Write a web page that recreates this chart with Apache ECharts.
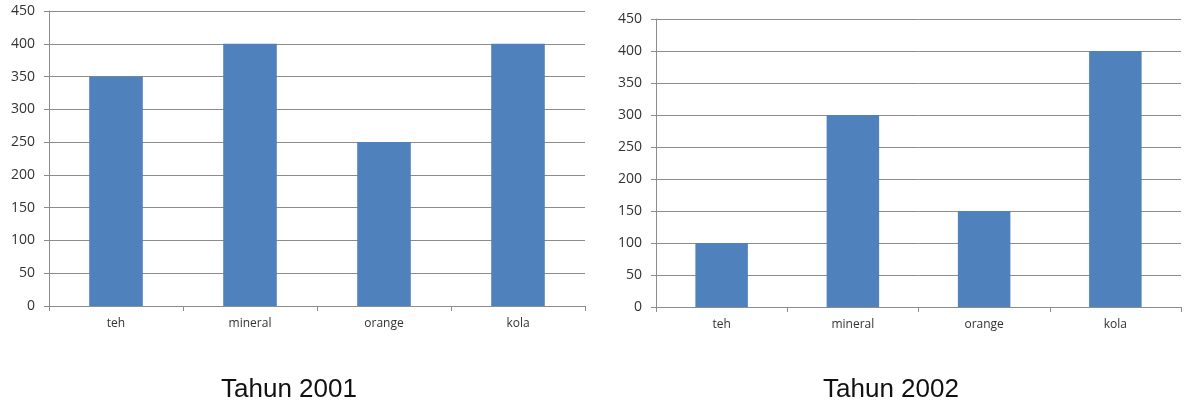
<!DOCTYPE html>
<html>
<head>
<meta charset="utf-8">
<script src="https://cdn.jsdelivr.net/npm/echarts@6/dist/echarts.min.js"></script>
<style>
  html, body { margin: 0; padding: 0; background: #fff; }
  #chart { width: 1184px; height: 408px; }
</style>
</head>
<body>
<div id="chart"></div>
<script>
var categories = ['teh', 'mineral', 'orange', 'kola']
var values2001 = [350, 400, 250, 400]
var values2002 = [100, 300, 150, 400]
var titles = ['Tahun 2001', 'Tahun 2002']

var barColor = '#4F81BD'
var axisColor = '#8c8c8c'

function makeX(gridIndex) {
  return {
    type: 'category',
    gridIndex: gridIndex,
    data: categories,
    axisLine: { lineStyle: { color: axisColor } },
    axisTick: { show: true, length: 5, lineStyle: { color: axisColor } },
    axisLabel: { color: '#333', fontFamily: 'Open Sans', fontSize: 12, margin: 12 }
  }
}

function makeY(gridIndex) {
  return {
    type: 'value',
    gridIndex: gridIndex,
    min: 0,
    max: 450,
    interval: 50,
    axisLine: { show: true, lineStyle: { color: axisColor } },
    axisTick: { show: true, length: 5, lineStyle: { color: axisColor } },
    axisLabel: { color: '#333', fontFamily: 'Open Sans', fontSize: 14, margin: 14 },
    splitLine: { lineStyle: { color: axisColor } }
  }
}

var titleStyle = { fontFamily: 'Liberation Sans', fontSize: 26, fontWeight: 'normal', color: '#111' }

var chart = echarts.init(document.getElementById('chart'))
chart.setOption({
  animation: false,
  title: [
    { text: titles[0], left: 289, top: 377, textAlign: 'center', padding: 0, textStyle: titleStyle },
    { text: titles[1], left: 891, top: 377, textAlign: 'center', padding: 0, textStyle: titleStyle }
  ],
  grid: [
    { left: 49, right: 599, top: 11, bottom: 102 },
    { left: 656, right: 3, top: 19, bottom: 101 }
  ],
  xAxis: [makeX(0), makeX(1)],
  yAxis: [makeY(0), makeY(1)],
  series: [
    { type: 'bar', xAxisIndex: 0, yAxisIndex: 0, data: values2001, barWidth: '40%',
      itemStyle: { color: barColor } },
    { type: 'bar', xAxisIndex: 1, yAxisIndex: 1, data: values2002, barWidth: '40%',
      itemStyle: { color: barColor } }
  ]
})
</script>
</body>
</html>
